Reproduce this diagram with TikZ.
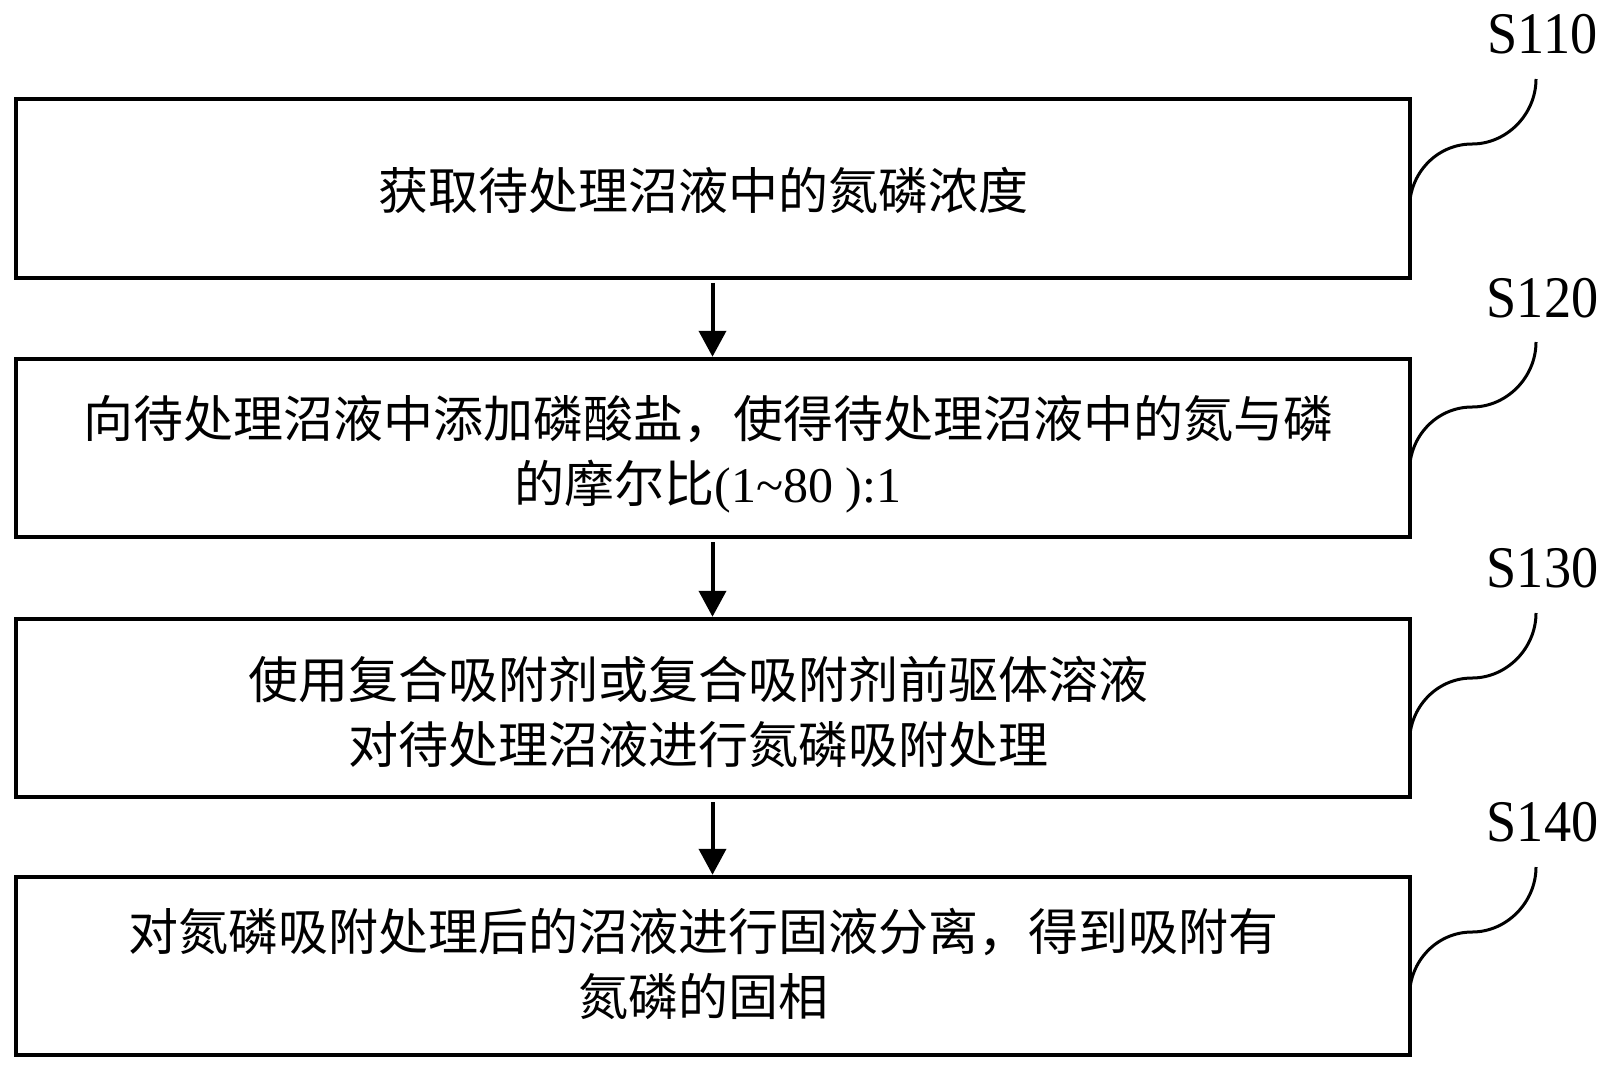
\documentclass[tikz,border=0pt]{standalone}
\usepackage{fontspec}
\setmainfont{Liberation Serif}
\newfontfamily\cjk{Noto Sans CJK SC}
\usetikzlibrary{arrows.meta}
\begin{document}
\begin{tikzpicture}[x=1pt,y=-1pt,
  box/.style={draw, line width=4pt, minimum width=1394pt, minimum height=178.5pt, inner sep=0pt, outer sep=0pt},
  txt/.style={font=\fontsize{50pt}{65pt}\selectfont\cjk, align=center, inner sep=0pt},
  lbl/.style={font=\fontsize{59pt}{60pt}\selectfont, anchor=base, inner sep=0pt},
  flow/.style={line width=4pt, -{Triangle[width=27pt,length=26pt]}, shorten <=5pt, shorten >=2pt},
  lead/.style={line width=3pt}]
\useasboundingbox (0,0) rectangle (1611,1072);
% boxes
\node[box] (b1) at (712.5,188.5) {};
\node[box] (b2) at (712.5,448) {};
\node[box] (b3) at (712.5,708) {};
\node[box] (b4) at (712.5,966) {};
% texts
\node[txt] (t1) at (703.5,190) {获取待处理沼液中的氮磷浓度};
\node[txt] (t2) at (708,454) {向待处理沼液中添加磷酸盐，使得待处理沼液中的氮与磷\\的摩尔比{\rmfamily(1\textasciitilde80 ):1}};
\node[txt] (t3) at (698,712) {使用复合吸附剂或复合吸附剂前驱体溶液\\对待处理沼液进行氮磷吸附处理};
\node[txt] (t4) at (703,964) {对氮磷吸附处理后的沼液进行固液分离，得到吸附有\\氮磷的固相};
% labels
\node[lbl] (s1) at (1542.5,53) {\scalebox{0.92}[1]{S110}};
\node[lbl] (s2) at (1542.5,317) {\scalebox{0.92}[1]{S120}};
\node[lbl] (s3) at (1542.5,587) {\scalebox{0.92}[1]{S130}};
\node[lbl] (s4) at (1542.5,841) {\scalebox{0.92}[1]{S140}};
% leader ends
\coordinate (e1) at (1536,79);
\coordinate (e2) at (1536,342);
\coordinate (e3) at (1536,613);
\coordinate (e4) at (1536,867);
% leaders
\draw[lead] (b1.east |- 0,208) .. controls +(0,-35) and +(-35,0) .. (1472,144) .. controls +(35,0) and +(0,35) .. (e1);
\draw[lead] (b2.east |- 0,471) .. controls +(0,-35) and +(-35,0) .. (1472,407) .. controls +(35,0) and +(0,35) .. (e2);
\draw[lead] (b3.east |- 0,742) .. controls +(0,-35) and +(-35,0) .. (1472,678) .. controls +(35,0) and +(0,35) .. (e3);
\draw[lead] (b4.east |- 0,996) .. controls +(0,-35) and +(-35,0) .. (1472,932) .. controls +(35,0) and +(0,35) .. (e4);
% flow arrows
\draw[flow] (b1) -- (b2);
\draw[flow] (b2) -- (b3);
\draw[flow] (b3) -- (b4);
\end{tikzpicture}
\end{document}
